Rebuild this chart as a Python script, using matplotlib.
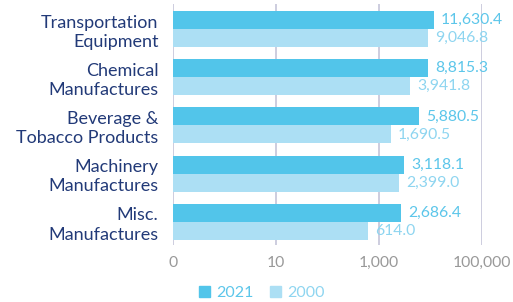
import matplotlib.pyplot as plt
import numpy as np
from matplotlib.patches import Patch

categories = ["Transportation\nEquipment", "Chemical\nManufactures",
              "Beverage &\nTobacco Products", "Machinery\nManufactures",
              "Misc.\nManufactures"]
vals_2021 = [11630.4, 8815.3, 5880.5, 3118.1, 2686.4]
vals_2000 = [9046.8, 3941.8, 1690.5, 2399.0, 614.0]
tick_vals = [0.1, 10, 1000, 100000]
tick_labels = ["0", "10", "1,000", "100,000"]

C21 = "#52c5ea"
C00 = "#acdff4"
T21 = "#5cc6ea"
T00 = "#8ed5f0"
NAVY = "#223a78"

plt.rcParams['font.family'] = ['Lato', 'DejaVu Sans']

fig = plt.figure(figsize=(5.13, 3.02), dpi=100)
ax = fig.add_axes([173 / 513, 1 - 245 / 302, (482 - 173) / 513, 241 / 302])

y = np.arange(len(categories))
h = 0.373
ax.barh(y - h / 2, vals_2021, height=h, color=C21, zorder=2)
ax.barh(y + h / 2, vals_2000, height=h, color=C00, zorder=2)

for i in range(len(categories)):
    ax.text(vals_2021[i] * 1.38, y[i] - h / 2, f"{vals_2021[i]:,.1f}",
            va="center", ha="left", color=T21, fontsize=11.3)
    ax.text(vals_2000[i] * 1.38, y[i] + h / 2, f"{vals_2000[i]:,.1f}",
            va="center", ha="left", color=T00, fontsize=11.3)

ax.set_xscale("log")
ax.set_xlim(0.1, 100000)
ax.set_ylim(4.48, -0.52)
ax.set_xticks(tick_vals)
ax.set_xticklabels(tick_labels)
ax.xaxis.set_minor_locator(plt.NullLocator())
ax.set_yticks(y)
ax.set_yticklabels(categories, color=NAVY, fontsize=13, linespacing=1.25)
ax.tick_params(axis="both", length=0)
ax.tick_params(axis="x", colors="#999999", labelsize=11.3, pad=8)
ax.tick_params(axis="y", pad=10.5)
ax.grid(axis="x", color="#c9c9dc", linewidth=1.3, zorder=0)
ax.set_axisbelow(True)
for s in ax.spines.values():
    s.set_visible(False)

handles = [Patch(color=C21, label="2021"), Patch(color=C00, label="2000")]
leg = fig.legend(handles=handles, loc="center", bbox_to_anchor=(0.51, 1 - 293 / 302),
                 ncol=2, frameon=False, fontsize=11.5, handlelength=0.7,
                 handleheight=0.7, handletextpad=0.4, columnspacing=1.0)
for t, c in zip(leg.get_texts(), [T21, T00]):
    t.set_color(c)

fig.savefig("out.png", dpi=100)
